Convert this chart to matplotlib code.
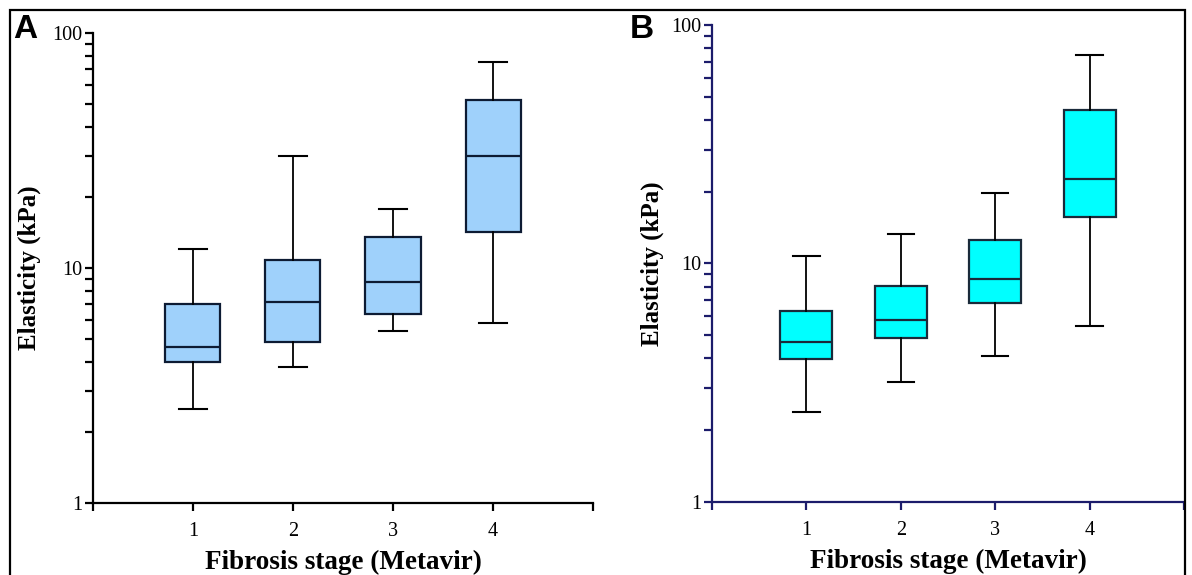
import matplotlib
matplotlib.use('Agg')
import matplotlib.pyplot as plt
from matplotlib.patches import Rectangle
from matplotlib.ticker import LogLocator, FixedLocator, NullFormatter

stages = [1, 2, 3, 4]

# panel A: whisker low, Q1, median, Q3, whisker high (kPa)
a_low = [2.52, 3.80, 5.41, 5.85]
a_q1 = [3.97, 4.83, 6.35, 14.2]
a_med = [4.62, 7.15, 8.69, 30.0]
a_q3 = [7.01, 10.8, 13.6, 51.9]
a_high = [12.1, 30.1, 17.9, 75.5]

# panel B
b_low = [2.38, 3.18, 4.10, 5.47]
b_q1 = [3.98, 4.89, 6.85, 15.6]
b_med = [4.70, 5.81, 8.64, 22.5]
b_q3 = [6.34, 8.02, 12.5, 44.2]
b_high = [10.75, 13.3, 19.75, 75.1]

serif = 'Liberation Serif'


def make_stats(low, q1, med, q3, high):
    out = []
    for i in range(len(low)):
        out.append({'whislo': low[i], 'q1': q1[i], 'med': med[i],
                    'q3': q3[i], 'whishi': high[i], 'fliers': []})
    return out


def draw_panel(ax, stats, face, edge, axcol, letter, lx, ly, ypad):
    ax.bxp(stats, positions=stages, widths=0.55, showfliers=False,
           patch_artist=True,
           boxprops=dict(facecolor=face, edgecolor=edge, linewidth=1.6),
           medianprops=dict(color=edge, linewidth=1.6),
           whiskerprops=dict(color='black', linewidth=1.3),
           capprops=dict(color='black', linewidth=1.5),
           capwidths=0.28)
    ax.set_yscale('log')
    ax.set_ylim(1, 100)
    ax.set_xlim(0, 5)
    ax.spines['top'].set_visible(False)
    ax.spines['right'].set_visible(False)
    for s in ['left', 'bottom']:
        ax.spines[s].set_color(axcol)
        ax.spines[s].set_linewidth(1.6)
    ax.xaxis.set_major_locator(FixedLocator([0, 1, 2, 3, 4, 5]))
    ax.set_xticklabels(['', '1', '2', '3', '4', ''])
    ax.yaxis.set_minor_locator(LogLocator(base=10, subs=range(2, 10), numticks=10))
    ax.yaxis.set_minor_formatter(NullFormatter())
    ax.set_yticks([1, 10, 100])
    ax.set_yticklabels(['1', '10', '100'])
    ax.tick_params(axis='both', which='both', direction='out', color=axcol,
                   width=1.6, labelsize=14.5)
    ax.tick_params(axis='y', which='both', length=6, pad=2)
    ax.tick_params(axis='x', length=6, pad=8)
    for t in ax.get_xticklabels() + ax.get_yticklabels():
        t.set_family(serif)
    ax.set_xlabel('Fibrosis stage (Metavir)', family=serif, fontweight='bold',
                  fontsize=19.5, labelpad=6)
    ax.set_ylabel('Elasticity (kPa)', family=serif, fontweight='bold',
                  fontsize=18, labelpad=ypad)
    fig.text(lx, ly, letter, family='Liberation Sans', fontweight='bold',
             fontsize=24, ha='left', va='top')


fig = plt.figure(figsize=(11.92, 5.75), dpi=100)

axA = fig.add_axes([0.078, 0.1252, 0.4195, 0.8174])
axB = fig.add_axes([0.5973, 0.1270, 0.396, 0.8296])

draw_panel(axA, make_stats(a_low, a_q1, a_med, a_q3, a_high),
           '#9fd1fb', '#0d1b33', 'black', 'A', 0.011, 0.975, 8)
draw_panel(axB, make_stats(b_low, b_q1, b_med, b_q3, b_high),
           '#00ffff', '#1a2a3a', '#1c1c6b', 'B', 0.528, 0.975, 5)

# outer frame
fig.patches.append(Rectangle((10 / 1192, -0.01), 1175 / 1192, 1 - 10 / 575 + 0.01,
                             transform=fig.transFigure, fill=False,
                             edgecolor='black', linewidth=1.6))

fig.savefig('out.png', dpi=100)
